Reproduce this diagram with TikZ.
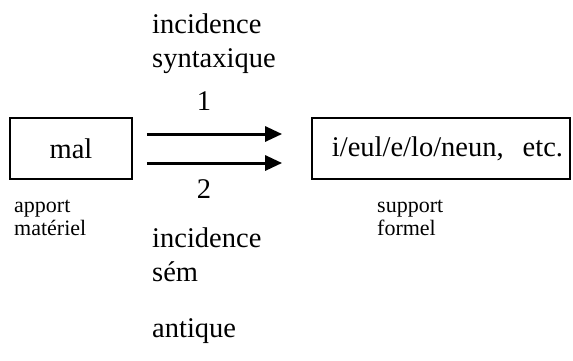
\documentclass[tikz,border=0pt]{standalone}
\usepackage{fontspec}
\setmainfont{Liberation Serif}
\usetikzlibrary{arrows.meta}
\tikzset{
  big/.style={font=\fontsize{28.5}{34}\selectfont, inner sep=0pt},
  small/.style={font=\fontsize{22}{22.5}\selectfont, inner sep=0pt, align=left},
  boxnode/.style={draw, line width=1.8pt, minimum height=61pt, inner sep=0pt},
  arr/.style={line width=3pt, -{Triangle[length=17pt,width=15pt]}},
}
\begin{document}
\begin{tikzpicture}[x=1pt,y=-1pt]
\useasboundingbox (0,0) rectangle (573,360);
\node[big, boxnode, minimum width=122pt, text height=20pt, text depth=0pt] (mal) at (71,148.5) {mal};
\node[big, boxnode, minimum width=258pt, text width=244pt, align=right, inner xsep=7pt] (sup) at (441,148.5) {i/eul/e/lo/neun,\ \ etc.};
\draw[arr] ([yshift=14.5pt,xshift=14pt]mal.east) -- ([yshift=14.5pt,xshift=-29pt]sup.west);
\draw[arr] ([yshift=-14.5pt,xshift=14pt]mal.east) -- ([yshift=-14.5pt,xshift=-29pt]sup.west);
\node[big, anchor=base] (one) at (204,110) {1};
\node[big, anchor=base] (two) at (204,198) {2};
\node[big, anchor=base west, align=left] (syn) at (152,67) {incidence\\syntaxique};
\node[big, anchor=base west, align=left] (sem) at (152,281) {incidence\\sém};
\node[big, anchor=base west] (ant) at (152,337) {antique};
\node[small, anchor=base west] (app) at (14,235) {apport\\matériel};
\node[small, anchor=base west] (form) at (377,235) {support\\formel};
\end{tikzpicture}
\end{document}
